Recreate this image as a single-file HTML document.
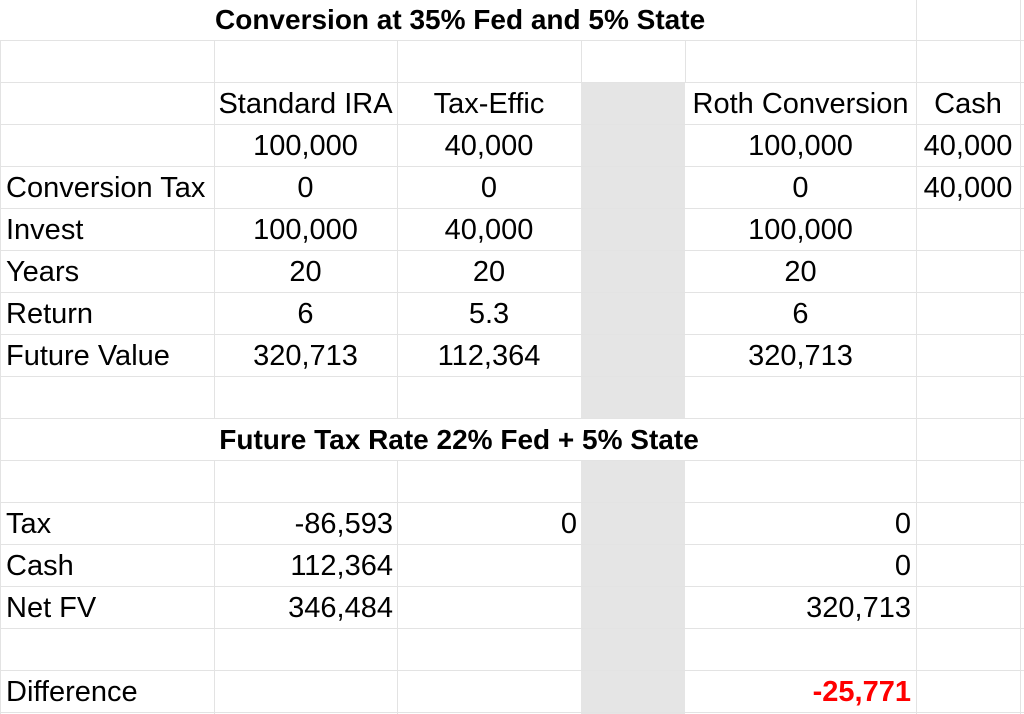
<!DOCTYPE html>
<html><head><style>
body{margin:0;background:#fff;width:1024px;height:714px;overflow:hidden;font-family:"Liberation Sans",sans-serif;position:relative;}
.h{position:absolute;left:0;width:1024px;height:1px;background:#e3e3e3}
.v{position:absolute;width:1px;background:#e3e3e3}
.g{position:absolute;left:581px;width:104px;top:82px;height:632px;background:#e5e5e5}
.c{position:absolute;font-size:29px;line-height:42px;height:42px;white-space:nowrap;color:#000}
.b{font-weight:bold;font-size:28px}
.red{color:#f00;font-weight:bold}
</style></head><body>
<div class="g"></div>
<div class="h" style="top:40px"></div><div class="h" style="top:82px"></div><div class="h" style="top:124px"></div><div class="h" style="top:166px"></div><div class="h" style="top:208px"></div><div class="h" style="top:250px"></div><div class="h" style="top:292px"></div><div class="h" style="top:334px"></div><div class="h" style="top:376px"></div><div class="h" style="top:418px"></div><div class="h" style="top:460px"></div><div class="h" style="top:502px"></div><div class="h" style="top:544px"></div><div class="h" style="top:586px"></div><div class="h" style="top:628px"></div><div class="h" style="top:670px"></div><div class="h" style="top:712px"></div>
<div class="v" style="left:0;top:40px;height:674px"></div>
<div class="v" style="left:214px;top:40px;height:674px"></div>
<div class="v" style="left:397px;top:40px;height:674px"></div>
<div class="v" style="left:581px;top:40px;height:42px"></div>
<div class="v" style="left:685px;top:40px;height:42px"></div>
<div class="v" style="left:916px;top:0;height:714px"></div>
<div class="v" style="left:1020px;top:0;height:714px"></div>
<div style="position:absolute;left:201px;top:419px;width:714px;height:41px;background:#fff"></div>

<div class="c b" style="left:215px;top:-1px;width:488px;text-align:center">Conversion at 35% Fed and 5% State</div>
<div class="c b" style="left:218px;top:419px;width:482px;text-align:center">Future Tax Rate 22% Fed + 5% State</div>

<div class="c" style="left:214px;top:83px;width:183px;text-align:center">Standard IRA</div>
<div class="c" style="left:397px;top:83px;width:184px;text-align:center">Tax-Effic</div>
<div class="c" style="left:685px;top:83px;width:231px;text-align:center">Roth Conversion</div>
<div class="c" style="left:916px;top:83px;width:104px;text-align:center">Cash</div>

<div class="c" style="left:214px;top:125px;width:183px;text-align:center">100,000</div>
<div class="c" style="left:397px;top:125px;width:184px;text-align:center">40,000</div>
<div class="c" style="left:685px;top:125px;width:231px;text-align:center">100,000</div>
<div class="c" style="left:916px;top:125px;width:104px;text-align:center">40,000</div>

<div class="c" style="left:6px;top:167px">Conversion Tax</div>
<div class="c" style="left:214px;top:167px;width:183px;text-align:center">0</div>
<div class="c" style="left:397px;top:167px;width:184px;text-align:center">0</div>
<div class="c" style="left:685px;top:167px;width:231px;text-align:center">0</div>
<div class="c" style="left:916px;top:167px;width:104px;text-align:center">40,000</div>

<div class="c" style="left:6px;top:209px">Invest</div>
<div class="c" style="left:214px;top:209px;width:183px;text-align:center">100,000</div>
<div class="c" style="left:397px;top:209px;width:184px;text-align:center">40,000</div>
<div class="c" style="left:685px;top:209px;width:231px;text-align:center">100,000</div>

<div class="c" style="left:6px;top:251px">Years</div>
<div class="c" style="left:214px;top:251px;width:183px;text-align:center">20</div>
<div class="c" style="left:397px;top:251px;width:184px;text-align:center">20</div>
<div class="c" style="left:685px;top:251px;width:231px;text-align:center">20</div>

<div class="c" style="left:6px;top:293px">Return</div>
<div class="c" style="left:214px;top:293px;width:183px;text-align:center">6</div>
<div class="c" style="left:397px;top:293px;width:184px;text-align:center">5.3</div>
<div class="c" style="left:685px;top:293px;width:231px;text-align:center">6</div>

<div class="c" style="left:6px;top:335px">Future Value</div>
<div class="c" style="left:214px;top:335px;width:183px;text-align:center">320,713</div>
<div class="c" style="left:397px;top:335px;width:184px;text-align:center">112,364</div>
<div class="c" style="left:685px;top:335px;width:231px;text-align:center">320,713</div>

<div class="c" style="left:6px;top:503px">Tax</div>
<div class="c" style="left:214px;top:503px;width:179px;text-align:right">-86,593</div>
<div class="c" style="left:397px;top:503px;width:180px;text-align:right">0</div>
<div class="c" style="left:685px;top:503px;width:226px;text-align:right">0</div>

<div class="c" style="left:6px;top:545px">Cash</div>
<div class="c" style="left:214px;top:545px;width:179px;text-align:right">112,364</div>
<div class="c" style="left:685px;top:545px;width:226px;text-align:right">0</div>

<div class="c" style="left:6px;top:587px">Net FV</div>
<div class="c" style="left:214px;top:587px;width:179px;text-align:right">346,484</div>
<div class="c" style="left:685px;top:587px;width:226px;text-align:right">320,713</div>

<div class="c" style="left:6px;top:671px">Difference</div>
<div class="c red" style="left:685px;top:671px;width:226px;text-align:right">-25,771</div>
</body></html>
